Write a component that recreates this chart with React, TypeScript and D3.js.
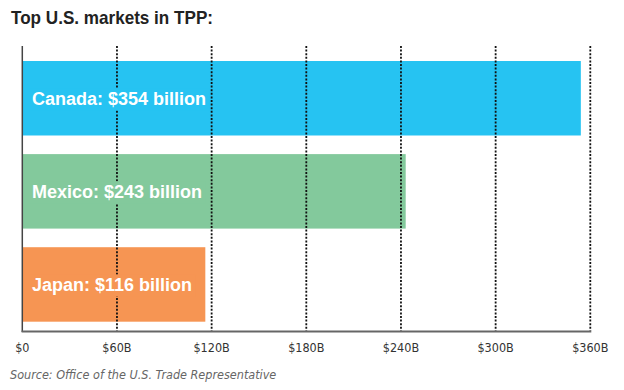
import React, { useEffect, useRef } from 'react';
import * as d3 from 'd3';

const countries = ['Canada', 'Mexico', 'Japan'];
const values = [354, 243, 116]; // billions USD
const barColors = ['#26c3f2', '#83c99c', '#f69553'];
const tickValues = [0, 60, 120, 180, 240, 300, 360];
const tickLabels = ['$0', '$60B', '$120B', '$180B', '$240B', '$300B', '$360B'];

const width = 624;
const height = 390;

const App: React.FC = () => {
  const ref = useRef<SVGSVGElement | null>(null);

  useEffect(() => {
    if (!ref.current) return;
    const svg = d3.select(ref.current).html('');

    const x = d3.scaleLinear().domain([0, 360]).range([22.3, 590.3]);
    const y = d3
      .scaleBand<string>()
      .domain(countries)
      .range([51.7, 331])
      .paddingInner(0.2)
      .paddingOuter(0.1);

    const plotTop = 46;
    const plotBottom = 331;

    // bars
    svg
      .selectAll('rect.bar')
      .data(countries)
      .enter()
      .append('rect')
      .attr('class', 'bar')
      .attr('x', x(0))
      .attr('y', (d) => y(d)!)
      .attr('width', (_, i) => x(values[i]) - x(0))
      .attr('height', y.bandwidth())
      .attr('fill', (_, i) => barColors[i]);

    // dotted gridlines, drawn over the bars
    svg
      .selectAll('line.grid')
      .data(tickValues.slice(1))
      .enter()
      .append('line')
      .attr('class', 'grid')
      .attr('x1', (d) => x(d))
      .attr('x2', (d) => x(d))
      .attr('y1', plotTop)
      .attr('y2', plotBottom)
      .attr('stroke', '#111')
      .attr('stroke-width', 1.8)
      .attr('stroke-dasharray', '2,1.6');

    // labels with a patch of bar colour behind so gridlines break around them
    const labels = svg
      .selectAll('g.label')
      .data(countries)
      .enter()
      .append('g')
      .attr('class', 'label');

    labels.each(function (d, i) {
      const g = d3.select(this);
      const cy = y(d)! + y.bandwidth() / 2;
      const bg = g.append('rect').attr('fill', barColors[i]);
      const t = g
        .append('text')
        .attr('x', 32)
        .attr('y', cy + 6.4)
        .attr('fill', '#fff')
        .attr('font-family', '"Liberation Sans", Arial, sans-serif')
        .attr('font-weight', 700)
        .attr('font-size', 18)
        .text(`${d}: $${values[i]} billion`);
      const w = (t.node() as SVGTextElement).getComputedTextLength();
      bg.attr('x', 29)
        .attr('y', cy - 10)
        .attr('width', w + 6)
        .attr('height', 22);
    });

    // left axis line
    svg
      .append('line')
      .attr('x1', x(0))
      .attr('x2', x(0))
      .attr('y1', plotTop)
      .attr('y2', plotBottom + 1)
      .attr('stroke', '#444')
      .attr('stroke-width', 1.5);

    // bottom axis line
    svg
      .append('line')
      .attr('x1', x(0) - 0.7)
      .attr('x2', x(360) + 1)
      .attr('y1', plotBottom + 0.5)
      .attr('y2', plotBottom + 0.5)
      .attr('stroke', '#666')
      .attr('stroke-width', 2);

    // tick labels
    svg
      .selectAll('text.tick')
      .data(tickValues)
      .enter()
      .append('text')
      .attr('class', 'tick')
      .attr('x', (d) => x(d))
      .attr('y', 352)
      .attr('text-anchor', 'middle')
      .attr('fill', '#333')
      .attr('font-family', '"DejaVu Sans Condensed", "DejaVu Sans", sans-serif')
      .attr('font-size', 12.5)
      .text((_, i) => tickLabels[i]);

    // title
    svg
      .append('text')
      .attr('x', 11)
      .attr('y', 24)
      .attr('fill', '#222')
      .attr('font-family', '"Liberation Sans", Arial, sans-serif')
      .attr('font-weight', 700)
      .attr('font-size', 19)
      .attr('textLength', 202)
      .attr('lengthAdjust', 'spacingAndGlyphs')
      .text('Top U.S. markets in TPP:');

    // source
    svg
      .append('text')
      .attr('x', 10)
      .attr('y', 379)
      .attr('fill', '#666')
      .attr('font-family', '"DejaVu Sans Condensed", "DejaVu Sans", sans-serif')
      .attr('font-style', 'italic')
      .attr('font-size', 12.5)
      .text('Source: Office of the U.S. Trade Representative');
  }, []);

  return (
    <svg
      ref={ref}
      width={width}
      height={height}
      style={{ position: 'absolute', left: 0, top: 0, background: '#fff' }}
    />
  );
};

export default App;
